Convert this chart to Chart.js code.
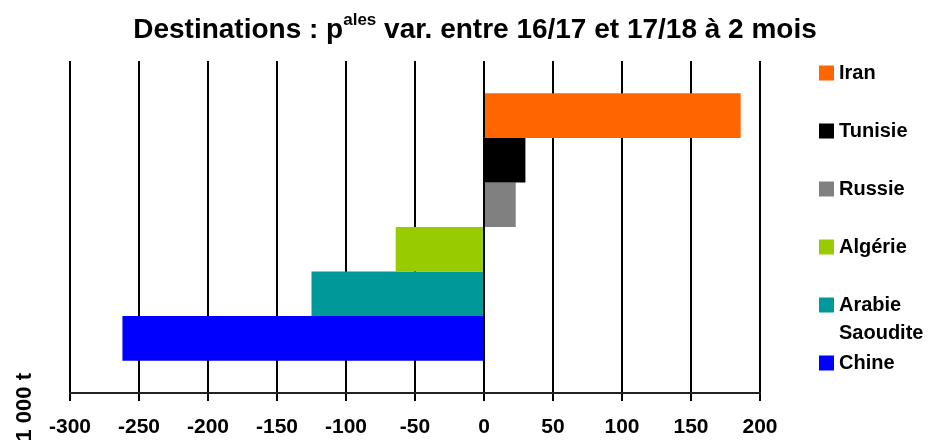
<!DOCTYPE html>
<html>
<head>
<meta charset="utf-8">
<script src="https://cdn.jsdelivr.net/npm/chart.js@4"></script>
<style>
  html, body { margin: 0; padding: 0; background: #fff; }
  #wrap { width: 930px; height: 441px; }
</style>
</head>
<body>
<div id="wrap"><canvas id="graficoDest"></canvas></div>
<script>
const pays = ["Iran", "Tunisie", "Russie", "Algérie", "Arabie Saoudite", "Chine"];
const variations = [186, 30, 23, -64, -125, -262];
const couleurs = ["#ff6600", "#000000", "#808080", "#99cc00", "#009999", "#0000ff"];
const graduations = [-300, -250, -200, -150, -100, -50, 0, 50, 100, 150, 200];
const unite = "1 000 t";

const police = "'Liberation Sans', Arial, sans-serif";

const datasets = pays.map((p, i) => ({
  label: p,
  data: [variations[i]],
  backgroundColor: couleurs[i],
  borderWidth: 0,
  categoryPercentage: 0.805,
  barPercentage: 1
}));

// titre avec exposant + légende à droite + unité verticale
const dessins = {
  id: "dessins",
  afterDraw(chart){
    const ctx = chart.ctx;
    ctx.save();
    ctx.fillStyle = "#000";

    // titre
    const gros = "bold 28px " + police;
    const petit = "bold 17px " + police;
    const t1 = "Destinations : p", t2 = "ales", t3 = " var. entre 16/17 et 17/18 à 2 mois";
    ctx.font = gros;
    const w1 = ctx.measureText(t1).width, w3 = ctx.measureText(t3).width;
    ctx.font = petit;
    const w2 = ctx.measureText(t2).width;
    let x = 475 - (w1 + w2 + w3) / 2;
    ctx.textBaseline = "alphabetic";
    ctx.textAlign = "left";
    ctx.font = gros;
    ctx.fillText(t1, x, 38);
    x += w1;
    ctx.font = petit;
    ctx.fillText(t2, x, 25);
    x += w2;
    ctx.font = gros;
    ctx.fillText(t3, x, 38);

    // légende
    ctx.font = "bold 20px " + police;
    ctx.textBaseline = "middle";
    let y = 73;
    pays.forEach((p, i) => {
      ctx.fillStyle = couleurs[i];
      ctx.fillRect(819, y - 7.5, 15, 15);
      ctx.fillStyle = "#000";
      const mots = p.split(" ");
      let lignes = [];
      let cur = "";
      mots.forEach(m => {
        const essai = cur ? cur + " " + m : m;
        if(cur && ctx.measureText(essai).width > 88){
          lignes.push(cur);
          cur = m;
        } else {
          cur = essai;
        }
      });
      lignes.push(cur);
      lignes.forEach((l, k) => ctx.fillText(l, 839, y + k * 28));
      y += 58;
    });

    // unité
    ctx.font = "bold 22px " + police;
    ctx.translate(31, 373);
    ctx.rotate(-Math.PI / 2);
    ctx.textAlign = "right";
    ctx.textBaseline = "alphabetic";
    ctx.fillText(unite, 0, 0);
    ctx.restore();
  }
};

new Chart(document.getElementById("graficoDest"), {
  type: "bar",
  data: {
    labels: [""],
    datasets: datasets
  },
  options: {
    indexAxis: "y",
    responsive: true,
    maintainAspectRatio: false,
    animation: false,
    layout: {
      padding: { left: 70, right: 170, top: 61, bottom: 2 }
    },
    plugins: {
      legend: { display: false },
      title: { display: false },
      tooltip: { enabled: false }
    },
    scales: {
      x: {
        min: graduations[0],
        max: graduations[graduations.length - 1],
        afterBuildTicks(axis){
          axis.ticks = graduations.map(v => ({ value: v }));
        },
        afterFit(axis){
          axis.height = 46;
        },
        grid: {
          color: "#000",
          lineWidth: 2,
          tickLength: 8,
          drawTicks: true
        },
        border: { display: true, color: "#222", width: 2 },
        ticks: {
          color: "#000",
          font: { family: police, size: 21, weight: "bold" },
          padding: 14,
          maxRotation: 0,
          autoSkip: false
        }
      },
      y: {
        display: false
      }
    }
  },
  plugins: [dessins]
});
</script>
</body>
</html>
